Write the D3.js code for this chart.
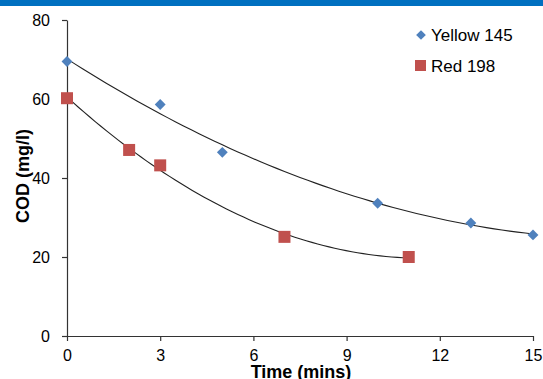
<!DOCTYPE html>
<html>
<head>
<meta charset="utf-8">
<script src="https://cdn.jsdelivr.net/npm/d3@7"></script>
<style>
  body { margin: 0; background: #fff; }
  svg { display: block; font-family: Arial, "Liberation Sans", sans-serif; }
</style>
</head>
<body>
<div class="chart"></div>
<script>
// data
var yellowTime = [0, 3, 5, 10, 13, 15];
var yellowCod = [69.5, 58.6, 46.5, 33.6, 28.6, 25.6];
var redTime = [0, 2, 3, 7, 11];
var redCod = [60.2, 47.1, 43.2, 25.1, 20];
var xTicks = [0, 3, 6, 9, 12, 15];
var yTicks = [0, 20, 40, 60, 80];

var svgWidth = 543;
var svgHeight = 379;

var margin = { top: 20, right: 10, bottom: 43, left: 67 };
var width = 533 - margin.left;
var height = 336 - margin.top;

var svg = d3.select(".chart")
  .append("svg")
  .attr("width", svgWidth)
  .attr("height", svgHeight);

// blue strip along the top
svg.append("rect")
  .attr("x", 0).attr("y", 0)
  .attr("width", svgWidth).attr("height", 6)
  .attr("fill", "#0070c0");

var chartGroup = svg.append("g")
  .attr("transform", `translate(${margin.left}, ${margin.top})`);

var xScale = d3.scaleLinear().domain([0, 15]).range([0, width]);
var yScale = d3.scaleLinear().domain([0, 80]).range([height, 0]);

var xAxis = d3.axisBottom(xScale).tickValues(xTicks).tickSize(5).tickSizeOuter(0);
var yAxis = d3.axisLeft(yScale).tickValues(yTicks).tickSize(5).tickSizeOuter(0);

var gx = chartGroup.append("g")
  .attr("transform", `translate(0, ${height})`)
  .call(xAxis);
var gy = chartGroup.append("g").call(yAxis);

[gx, gy].forEach(function(g) {
  g.selectAll("path, line").attr("stroke", "#333").attr("stroke-width", 1.2);
  g.selectAll("text").attr("fill", "#000").style("font-size", "16px")
    .style("font-family", "Arial, 'Liberation Sans', sans-serif");
});
gx.selectAll("text").attr("y", 25).attr("dy", 0);
gy.selectAll("text").attr("x", -17);

// axis titles
svg.append("text")
  .attr("x", 301).attr("y", 378)
  .attr("text-anchor", "middle")
  .style("font-size", "18px").style("font-weight", "bold")
  .text("Time (mins)");

svg.append("text")
  .attr("transform", "translate(29, 176) rotate(-90)")
  .attr("text-anchor", "middle")
  .style("font-size", "18px").style("font-weight", "bold")
  .text("COD (mg/l)");

// least squares quadratic, like the spreadsheet trendline
function quadFit(xs, ys) {
  var s = [0, 0, 0, 0, 0], t = [0, 0, 0];
  xs.forEach(function(x, i) {
    for (var k = 0; k < 5; k++) s[k] += Math.pow(x, k);
    for (var k = 0; k < 3; k++) t[k] += Math.pow(x, k) * ys[i];
  });
  var m = [[s[0], s[1], s[2], t[0]], [s[1], s[2], s[3], t[1]], [s[2], s[3], s[4], t[2]]];
  for (var c = 0; c < 3; c++) {
    for (var r = c + 1; r < 3; r++) {
      var f = m[r][c] / m[c][c];
      for (var j = c; j < 4; j++) m[r][j] -= f * m[c][j];
    }
  }
  var b = [0, 0, 0];
  for (var r = 2; r >= 0; r--) {
    var v = m[r][3];
    for (var j = r + 1; j < 3; j++) v -= m[r][j] * b[j];
    b[r] = v / m[r][r];
  }
  return function(x) { return b[0] + b[1] * x + b[2] * x * x; };
}

var line = d3.line()
  .x(d => xScale(d[0]))
  .y(d => yScale(d[1]));

function trend(xs, ys) {
  var f = quadFit(xs, ys);
  var lo = d3.min(xs), hi = d3.max(xs);
  var pts = d3.range(0, 61).map(i => lo + (hi - lo) * i / 60);
  chartGroup.append("path")
    .datum(pts.map(x => [x, f(x)]))
    .attr("d", line)
    .attr("fill", "none")
    .attr("stroke", "#222")
    .attr("stroke-width", 1.1);
}

trend(yellowTime, yellowCod);
trend(redTime, redCod);

// markers
chartGroup.selectAll(".red")
  .data(redTime.map((t, i) => [t, redCod[i]]))
  .enter()
  .append("rect")
  .attr("x", d => xScale(d[0]) - 6)
  .attr("y", d => yScale(d[1]) - 6)
  .attr("width", 12).attr("height", 12)
  .attr("fill", "#c0504d");

chartGroup.selectAll(".yel")
  .data(yellowTime.map((t, i) => [t, yellowCod[i]]))
  .enter()
  .append("path")
  .attr("d", d3.symbol(d3.symbolDiamond2, 75))
  .attr("transform", d => `translate(${xScale(d[0])}, ${yScale(d[1])})`)
  .attr("fill", "#4f81bd");

// legend
var legend = svg.append("g");
legend.append("path")
  .attr("d", d3.symbol(d3.symbolDiamond2, 60))
  .attr("transform", "translate(421, 35)")
  .attr("fill", "#4f81bd");
legend.append("text")
  .attr("x", 431).attr("y", 41)
  .style("font-size", "17px")
  .text("Yellow 145");
legend.append("rect")
  .attr("x", 415).attr("y", 60)
  .attr("width", 11).attr("height", 11)
  .attr("fill", "#c0504d");
legend.append("text")
  .attr("x", 431).attr("y", 72)
  .style("font-size", "17px")
  .text("Red 198");
</script>
</body>
</html>
